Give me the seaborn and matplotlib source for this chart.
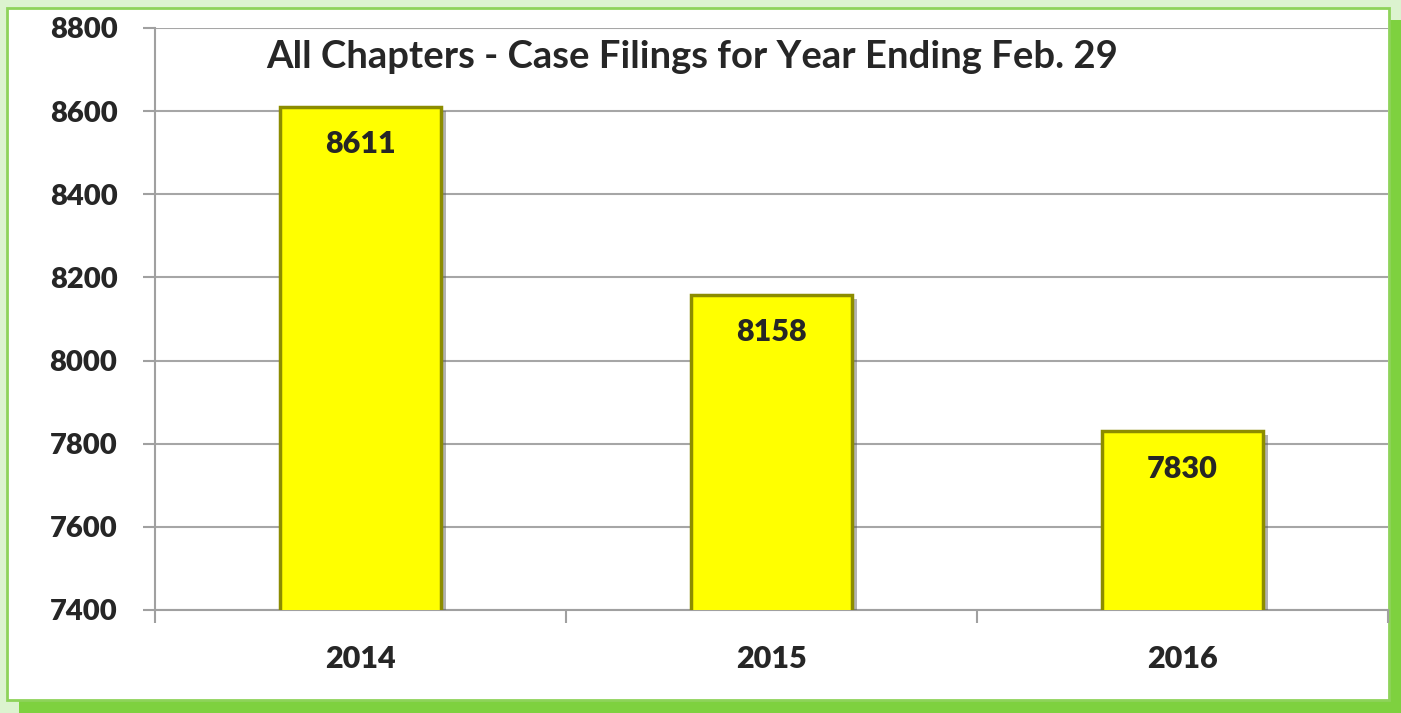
import matplotlib
matplotlib.use("Agg")
import matplotlib.pyplot as plt
import matplotlib.patheffects as pe
from matplotlib.patches import Rectangle
import seaborn as sns

# Data
years = ["2014", "2015", "2016"]
filings = [8611, 8158, 7830]
y_ticks = [7400, 7600, 7800, 8000, 8200, 8400, 8600, 8800]
title = "All Chapters - Case Filings for Year Ending Feb. 29"

sns.set_style("white")
plt.rcParams["font.family"] = ["Lato", "DejaVu Sans"]
plt.rcParams["font.weight"] = "bold"

W, H = 1401, 713
fig = plt.figure(figsize=(W / 100, H / 100), dpi=100, facecolor="#dcf3cf")

# green frame: shadow + white panel with thin green border
fig.patches.append(Rectangle((19 / W, 0), 1 - 19 / W, 1 - 20 / H,
                             transform=fig.transFigure, facecolor="#7ed13f",
                             edgecolor="none", zorder=-3))
fig.patches.append(Rectangle((7 / W, 1 - 700 / H), 1382 / W, 692 / H,
                             transform=fig.transFigure, facecolor="white",
                             edgecolor="#8ed35a", linewidth=2, zorder=-2))

ax = fig.add_axes([155 / W, 1 - 610 / H, 1233 / W, 582 / H])
ax.set_facecolor("none")

sns.barplot(x=years, y=filings, color="#ffff00", width=0.39, ax=ax,
            saturation=1, edgecolor="#8c8c00", linewidth=2.5, zorder=3)
for bar in ax.patches:
    bar.set_path_effects([pe.SimplePatchShadow(offset=(4, -3), shadow_rgbFace="#555555", alpha=0.45),
                          pe.Normal()])

for i, v in enumerate(filings):
    ax.annotate(str(v), (i, v), xytext=(0, -17), textcoords="offset points",
                ha="center", va="top", fontsize=22, fontweight="heavy", zorder=5)

ax.set_ylim(y_ticks[0], y_ticks[-1])
ax.set_xlim(-0.5, len(years) - 0.5)
ax.set_yticks(y_ticks)
ax.set_xticks(range(len(years)))
ax.set_xticks([i - 0.5 for i in range(len(years) + 1)], minor=True)
ax.grid(axis="y", color="#a6a6a6", linewidth=1.5, zorder=0)
ax.set_axisbelow(True)

for side in ["top", "right"]:
    ax.spines[side].set_visible(False)
for side in ["left", "bottom"]:
    ax.spines[side].set_color("#a0a0a0")
    ax.spines[side].set_linewidth(1.5)

ax.tick_params(axis="y", which="major", left=True, length=9, width=1.5, color="#a0a0a0",
               labelsize=21, pad=18)
ax.tick_params(axis="x", which="major", bottom=False, labelsize=22, pad=22)
ax.tick_params(axis="x", which="minor", bottom=True, length=9, width=1.5, color="#a0a0a0")
for lab in ax.get_xticklabels() + ax.get_yticklabels():
    lab.set_fontweight("heavy")
ax.set_xlabel("")
ax.set_ylabel("")

ax.text(0.4355, 0.95, title, transform=ax.transAxes, ha="center", va="center",
        fontsize=27.5, fontweight="bold")

fig.savefig("out.png", dpi=100, facecolor=fig.get_facecolor())
